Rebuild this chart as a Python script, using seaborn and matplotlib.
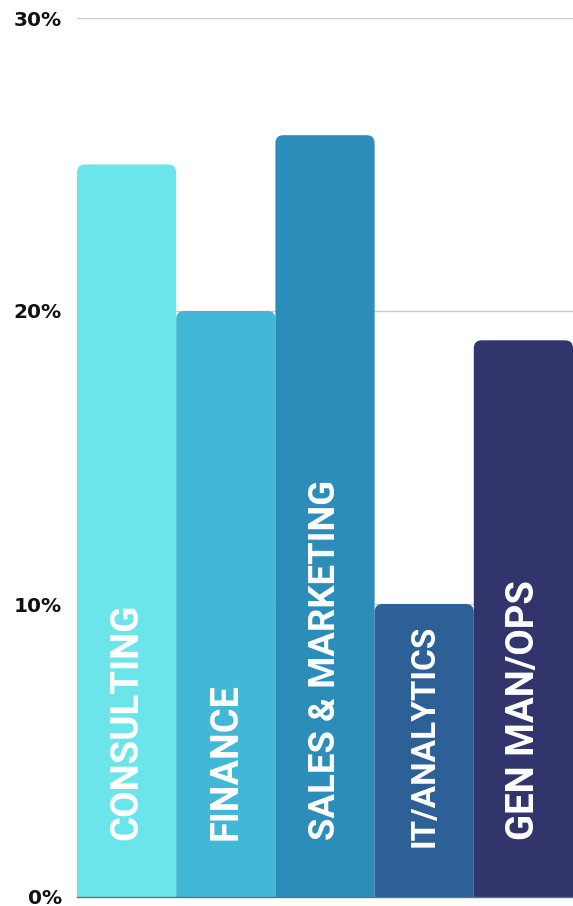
import matplotlib
matplotlib.use("Agg")
import matplotlib.pyplot as plt
import seaborn as sns
import pandas as pd
from matplotlib import font_manager
from matplotlib.patches import FancyBboxPatch

categories = ["CONSULTING", "FINANCE", "SALES & MARKETING", "IT/ANALYTICS", "GEN MAN/OPS"]
values = [25, 20, 26, 10, 19]
colors = ["#6BE5E9", "#43B7D6", "#2C8DBA", "#2D6096", "#32356C"]
yticks = [0, 10, 20, 30]
ytick_labels = ["0%", "10%", "20%", "30%"]

names = {f.name for f in font_manager.fontManager.ttflist}
label_font = "Liberation Sans Narrow" if "Liberation Sans Narrow" in names else "Roboto"

sns.set_theme(style="white")
plt.rcParams["font.family"] = ["DejaVu Sans"]

df = pd.DataFrame({"cat": categories, "val": values})
fig = plt.figure(figsize=(5.73, 9.06), dpi=100)
ax = fig.add_axes([77 / 573, 9 / 906, 1 - 77 / 573, 879 / 906])
sns.barplot(data=df, x="cat", y="val", hue="cat", palette=colors, width=1.0,
            legend=False, ax=ax, saturation=1, zorder=3)

ax.set_ylim(0, 30)
ax.set_xlim(-0.5, len(categories) - 0.5)

# rounded tops
px_per_x = (573 - 77) / len(categories)
px_per_y = 879 / 30
for p in list(ax.patches):
    x0, w, h = p.get_x(), p.get_width(), p.get_height()
    fc = p.get_facecolor()
    p.remove()
    r = 0.08
    fb = FancyBboxPatch((x0, -3), w, h + 3,
                        boxstyle=f"round,pad=0,rounding_size={r}",
                        mutation_aspect=px_per_x / px_per_y,
                        facecolor=fc, edgecolor="none", zorder=3, clip_on=True)
    ax.add_patch(fb)

sizes = [27.6, 27.3, 26.3, 24, 27.6]
bases = [1.95, 1.95, 1.95, 1.7, 1.95]
for i, (c, s, b) in enumerate(zip(categories, sizes, bases)):
    ax.text(i, b, c, rotation=90, ha="center", va="bottom", color="white",
            fontsize=s, fontweight="bold", family=[label_font, "DejaVu Sans"], zorder=5)

ax.set_yticks(yticks)
ax.set_yticklabels(ytick_labels, fontsize=14.5, fontweight="bold", color="#111111")
ax.tick_params(axis="y", length=0, pad=11)
ax.set_xticks([])
ax.set_xlabel("")
ax.set_ylabel("")
ax.yaxis.grid(True, color="#c8c8c8", linewidth=1, zorder=0)
ax.set_axisbelow(True)
for s in ["left", "right", "top"]:
    ax.spines[s].set_visible(False)
ax.spines["bottom"].set_color("#4a7c86")
ax.spines["bottom"].set_linewidth(1)
ax.spines["bottom"].set_zorder(6)

fig.savefig("out.png", dpi=100)
